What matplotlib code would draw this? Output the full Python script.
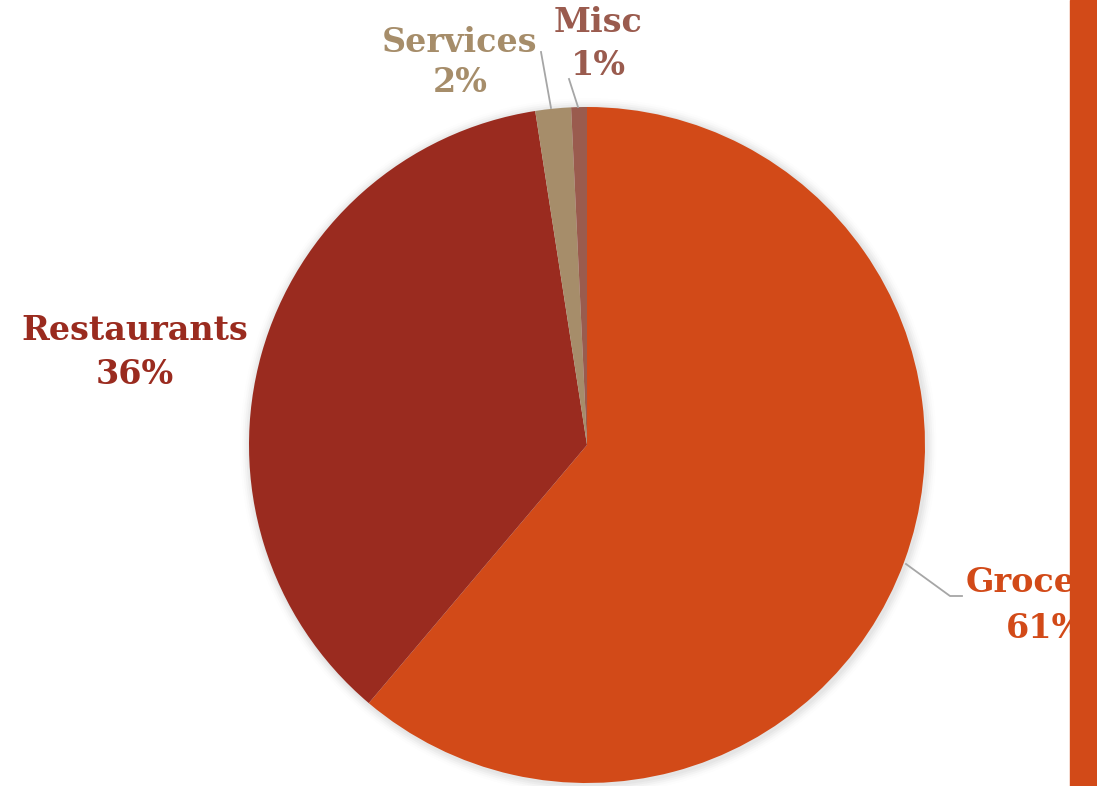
import matplotlib.pyplot as plt
from matplotlib.patches import Circle, Rectangle

# spending share by category (clockwise from 12 o'clock)
categories = ["Groceries", "Restaurants", "Services", "Misc"]
shares = [61.2, 36.4, 1.7, 0.75]
pct_labels = ["61%", "36%", "2%", "1%"]
colors = ["#D24A18", "#9A2B1F", "#A68D6A", "#9A5B4E"]

W, H = 1097, 786
cx, cy, R = 587, 445, 338  # pie centre / radius in pixels

fig = plt.figure(figsize=(W / 100, H / 100), dpi=100)
ax = fig.add_axes([0, 0, 1, 1])


def px(x, y):
    """pixel coords (top-left origin) -> data coords"""
    return (x - cx) / R, (cy - y) / R


# soft shadow around the pie
for i, a in enumerate([0.05, 0.04, 0.03, 0.02, 0.012]):
    ax.add_patch(Circle((0.004, -0.004), 1 + 0.006 * (i + 1), color="#555555",
                        alpha=a, lw=0, zorder=0))

ax.pie(shares, colors=colors, startangle=90, counterclock=False, radius=1,
       center=(0, 0), frame=True, wedgeprops=dict(linewidth=0))
ax.set_xlim(-cx / R, (W - cx) / R)
ax.set_ylim(-(H - cy) / R, cy / R)
ax.set_aspect("auto")
ax.axis("off")

font = dict(family="DejaVu Serif", weight="bold", fontsize=24)

# label positions (centre x, name line y, pct line y) in pixels
label_pos = [(1045, 583, 628), (135, 330, 375), (460, 43, 83), (598, 23, 66)]
for name, pct, col, (lx, y1, y2) in zip(categories, pct_labels, colors, label_pos):
    if name == "Groceries":
        # this label runs under the side bar, as in the original
        ax.text(*px(966, y1), name, color=col, ha="left", va="center", **font)
        ax.text(*px(1006, y2), pct, color=col, ha="left", va="center", **font)
    else:
        ax.text(*px(lx, y1), name, color=col, ha="center", va="center", **font)
        ax.text(*px(lx, y2), pct, color=col, ha="center", va="center", **font)

# leader lines
leaders = [
    [(906, 564), (950, 596), (962, 596)],
    [(551, 108), (541, 52)],
    [(578, 107), (569, 79)],
]
for pts in leaders:
    xs, ys = zip(*[px(x, y) for x, y in pts])
    ax.plot(xs, ys, color="#A6A6A6", lw=1.3, zorder=1)

# side accent bar
fig.patches.append(Rectangle((1070 / W, 0), 27 / W, 1, transform=fig.transFigure,
                             color="#D24A18", zorder=10))

fig.savefig("out.png", dpi=100, facecolor="white")
